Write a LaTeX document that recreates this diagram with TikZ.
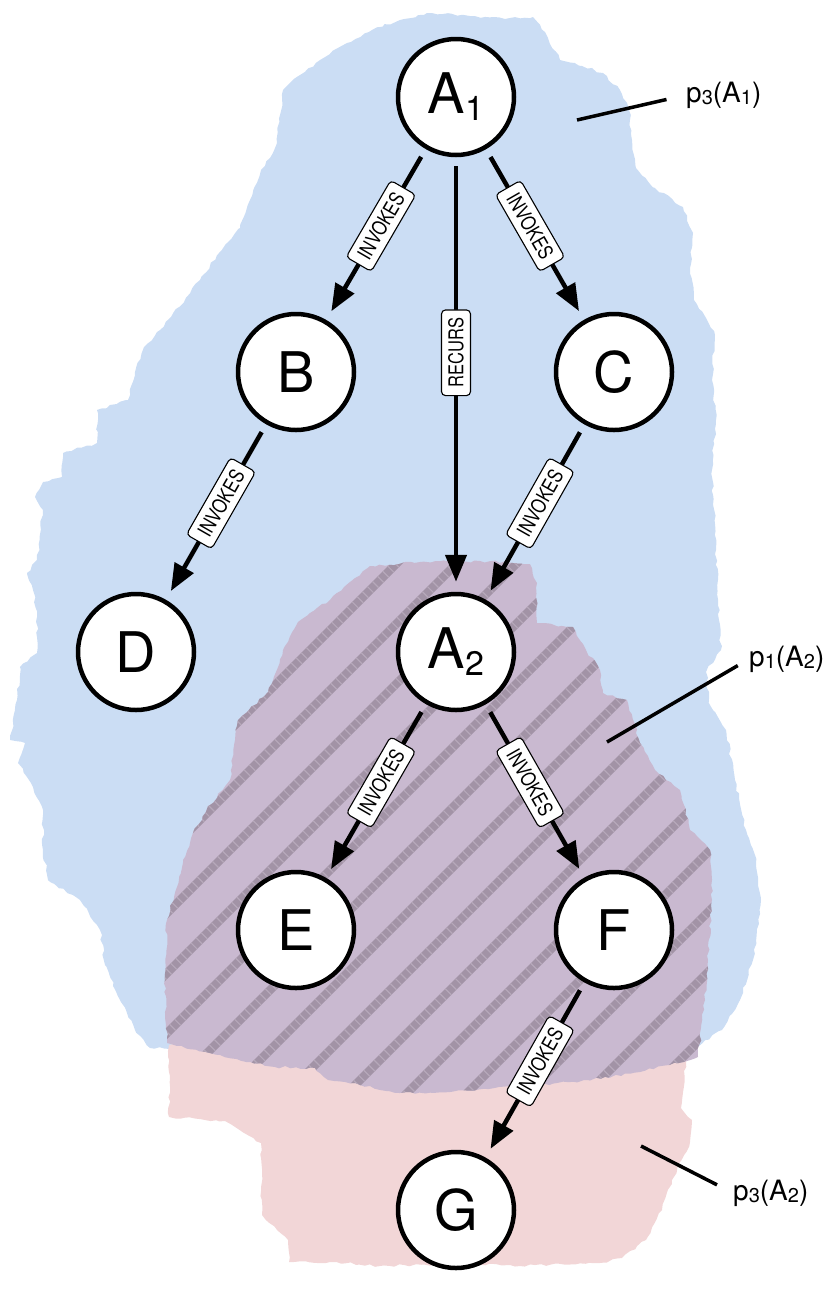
\documentclass[tikz,border=0pt]{standalone}
\usepackage{fontspec}
\setmainfont{TeX Gyre Heros}
\usetikzlibrary{arrows.meta,decorations.pathmorphing}
\definecolor{zoneblue}{HTML}{CBDDF4}
\definecolor{zonepink}{HTML}{F2D6D7}
\definecolor{zonepurple}{HTML}{C9B9D0}
\definecolor{hatchline}{HTML}{A293A6}
\definecolor{hatchgap}{HTML}{B6A8BA}
% subscripts for node names and for partition labels
\newcommand\nsub[1]{\raisebox{-7pt}{\fontsize{34}{34}\selectfont #1}}
\newcommand\psub[1]{\raisebox{-2pt}{\fontsize{20}{20}\selectfont #1}}
% edge label text, slightly narrowed and heightened
\newcommand\tagtxt[1]{\scalebox{0.97}[1.2]{#1}}

\begin{document}
\begin{tikzpicture}[x=1pt,y=-1pt,
  fn/.style={circle, draw, line width=4.5pt, fill=white, minimum size=116pt,
    inner sep=0pt, font=\fontsize{56}{60}\selectfont},
  rel/.style={line width=4.5pt, -{Triangle[length=27pt,width=21pt]},
    shorten <=9pt, shorten >=10pt},
  tag/.style={draw, line width=1.1pt, fill=white, rounded corners=4pt,
    inner xsep=8pt, inner ysep=0pt, minimum height=29pt,
    font=\fontsize{17}{17}\selectfont, pos=0.45},
  rough/.style={decorate, decoration={random steps, segment length=5pt, amplitude=1.3pt}},
  plabel/.style={anchor=west, inner sep=0pt, font=\fontsize{28}{30}\selectfont},
  pointer/.style={line width=3.5pt},
]
\useasboundingbox (0,0) rectangle (832,1291);
\pgfmathsetseed{7}

% blue zone
\fill[zoneblue, rough] (427,13) -- (470,16) -- (505,19) -- (533,17) -- (548,38) -- (560,60)
  -- (582,66) -- (603,73) -- (620,90) -- (629,110) -- (632,140) -- (636,168) -- (655,188)
  -- (683,207) -- (693,233) -- (690,268) -- (694,300) -- (706,318) -- (715,335) -- (712,380)
  -- (716,420) -- (712,470) -- (716,550) -- (719,620) -- (721,650) -- (706,672) -- (710,705)
  -- (726,730) -- (735,780) -- (746,830) -- (756,862) -- (761,900) -- (753,960) -- (740,1000)
  -- (722,1030) -- (692,1050) -- (400,1060) -- (150,1048) -- (135,1030) -- (120,1000)
  -- (105,965) -- (100,930) -- (80,900) -- (48,880) -- (43,850) -- (43,810) -- (33,787)
  -- (27,777) -- (18,763) -- (25,743) -- (10,740) -- (17,700) -- (20,667) -- (37,653)
  -- (37,617) -- (33,590) -- (27,573) -- (37,560) -- (43,510) -- (35,497) -- (43,482)
  -- (62,477) -- (63,453) -- (97,443) -- (97,410) -- (128,400) -- (135,372) -- (144,347)
  -- (160,330) -- (171,317) -- (200,280) -- (219,253) -- (240,228) -- (250,200) -- (261,170)
  -- (270,158) -- (277,143) -- (280,115) -- (283,90) -- (300,75) -- (320,60) -- (347,43)
  -- (372,30) -- (400,20) -- cycle;

% pink zone
\fill[zonepink, rough] (169,1045) -- (400,1040) -- (690,1040) -- (686,1062) -- (681,1108)
  -- (692,1120) -- (690,1142) -- (672,1180) -- (662,1210) -- (646,1240) -- (622,1258)
  -- (600,1263) -- (520,1266) -- (450,1264) -- (380,1266) -- (330,1262) -- (289,1262)
  -- (288,1240) -- (262,1215) -- (261,1143) -- (225,1121) -- (169,1117) -- cycle;

% purple hatched zone
\begin{scope}
  \path[rough, clip] (370,566) -- (420,562) -- (480,561) -- (530,564) -- (537,583) -- (537,623)
    -- (573,627) -- (586,650) -- (600,670) -- (603,693) -- (627,700) -- (640,743) -- (655,770)
    -- (680,790) -- (690,830) -- (710,850) -- (712,900) -- (708,960) -- (705,1000) -- (698,1057)
    -- (640,1072) -- (588,1080) -- (540,1085) -- (499,1087) -- (450,1092) -- (400,1093)
    -- (360,1085) -- (328,1080) -- (315,1068) -- (275,1067) -- (220,1055) -- (167,1043)
    -- (165,980) -- (167,920) -- (177,887) -- (183,860) -- (193,833) -- (210,805) -- (230,780)
    -- (238,720) -- (268,692) -- (283,650) -- (298,622) -- (330,600) -- (355,578) -- cycle;
  \fill[zonepurple] (140,540) rectangle (740,1110);
  \foreach \c in {720,780,...,1860} {
    \draw[hatchline, line width=8.5pt] ({\c-1150},1150) -- ({\c-500},500);
    \draw[hatchgap, line width=8.5pt, dash pattern=on 1.2pt off 6pt] ({\c-1150},1150) -- ({\c-500},500);
  }
\end{scope}

% call graph nodes
\node[fn] (a1) at (456,97)  {A\nsub{1}};
\node[fn] (b)  at (296,372) {B};
\node[fn] (c)  at (614,372) {C};
\node[fn] (d)  at (136,652) {D};
\node[fn] (a2) at (456,652) {A\nsub{2}};
\node[fn] (e)  at (296,930) {E};
\node[fn] (f)  at (614,930) {F};
\node[fn] (g)  at (456,1210) {G};

% call edges
\draw[rel] (a1) -- node[tag, sloped] {\tagtxt{INVOKES}} (b);
\draw[rel] (a1) -- node[tag, sloped] {\tagtxt{INVOKES}} (c);
\draw[rel] (a1) -- node[tag, rotate=90] {\tagtxt{RECURS}} (a2);
\draw[rel] (b)  -- node[tag, sloped] {\tagtxt{INVOKES}} (d);
\draw[rel] (c)  -- node[tag, sloped] {\tagtxt{INVOKES}} (a2);
\draw[rel] (a2) -- node[tag, sloped] {\tagtxt{INVOKES}} (e);
\draw[rel] (a2) -- node[tag, sloped] {\tagtxt{INVOKES}} (f);
\draw[rel] (f)  -- node[tag, sloped] {\tagtxt{INVOKES}} (g);

% partition labels
\node[plabel] (p3a1) at (686,95)   {p\psub{3}(A\psub{1})};
\node[plabel] (p1a2) at (749,659)  {p\psub{1}(A\psub{2})};
\node[plabel] (p3a2) at (733,1193) {p\psub{3}(A\psub{2})};
\coordinate (z3a1) at (577,120);
\coordinate (z1a2) at (607,742);
\coordinate (z3a2) at (641,1146);
\draw[pointer, shorten >=20pt] (z3a1) -- (p3a1.west);
\draw[pointer, shorten >=13pt] (z1a2) -- (p1a2.west);
\draw[pointer, shorten >=18pt] (z3a2) -- (p3a2.west);
\end{tikzpicture}
\end{document}
